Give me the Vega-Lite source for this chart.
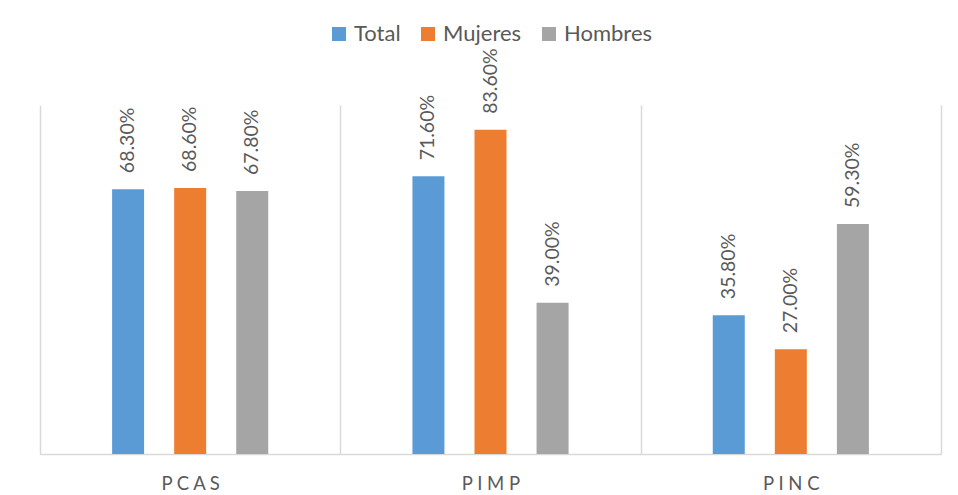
{
  "$schema": "https://vega.github.io/schema/vega-lite/v6.json",
  "width": 901,
  "height": 349,
  "autosize": {"type": "none"},
  "padding": {"left": 40, "top": 105, "right": 17, "bottom": 41},
  "background": "white",
  "config": {"view": {"stroke": null}, "font": "Lato"},
  "data": {
    "values": [
      {"cat": "PCAS", "serie": "Total", "val": 0.683},
      {"cat": "PCAS", "serie": "Mujeres", "val": 0.686},
      {"cat": "PCAS", "serie": "Hombres", "val": 0.678},
      {"cat": "PIMP", "serie": "Total", "val": 0.716},
      {"cat": "PIMP", "serie": "Mujeres", "val": 0.836},
      {"cat": "PIMP", "serie": "Hombres", "val": 0.39},
      {"cat": "PINC", "serie": "Total", "val": 0.358},
      {"cat": "PINC", "serie": "Mujeres", "val": 0.27},
      {"cat": "PINC", "serie": "Hombres", "val": 0.593}
    ]
  },
  "encoding": {
    "x": {
      "field": "cat",
      "type": "nominal",
      "sort": ["PCAS", "PIMP", "PINC"],
      "scale": {"paddingInner": 0, "paddingOuter": 0},
      "axis": {
        "title": null,
        "labelAngle": 0,
        "grid": true,
        "gridColor": "#d9d9d9",
        "gridWidth": 1.5,
        "tickBand": "extent",
        "ticks": false,
        "tickSize": 0,
        "domainColor": "#d9d9d9",
        "domainWidth": 1.5,
        "labelFont": "Lato",
        "labelFontSize": 18.5,
        "labelColor": "#595959",
        "labelPadding": 20,
        "labelExpr": "join(split(datum.label, ''), ' ')"
      }
    },
    "xOffset": {
      "field": "serie",
      "type": "nominal",
      "sort": ["Total", "Mujeres", "Hombres"],
      "scale": {"paddingInner": 0.161, "paddingOuter": 1}
    },
    "y": {
      "field": "val",
      "type": "quantitative",
      "scale": {"domain": [0, 0.9]},
      "axis": null
    }
  },
  "layer": [
    {
      "mark": {"type": "bar", "width": 32},
      "encoding": {
        "color": {
          "field": "serie",
          "type": "nominal",
          "sort": ["Total", "Mujeres", "Hombres"],
          "scale": {"domain": ["Total", "Mujeres", "Hombres"], "range": ["#5B9BD5", "#ED7D31", "#A5A5A5"]},
          "legend": {
            "title": null,
            "orient": "none",
            "legendX": 288,
            "legendY": -82,
            "direction": "horizontal",
            "symbolType": "square",
            "symbolSize": 196,
            "symbolStrokeWidth": 0,
            "labelFont": "Lato",
            "labelFontSize": 22,
            "labelColor": "#595959",
            "labelOffset": 4,
            "columnPadding": 16
          }
        }
      }
    },
    {
      "mark": {"type": "text", "angle": 270, "align": "left", "baseline": "middle", "dx": 16, "fontSize": 19.5, "font": "Lato", "color": "#595959"},
      "encoding": {
        "text": {"field": "val", "type": "quantitative", "format": ".2%"}
      }
    }
  ]
}
